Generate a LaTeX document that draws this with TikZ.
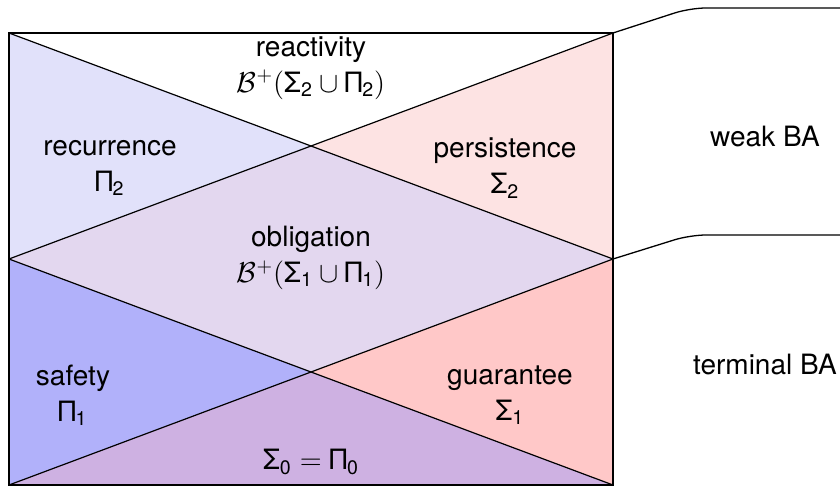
\documentclass[tikz,border=0pt]{standalone}
\usepackage{amsmath}
\usepackage{fontspec}
\setmainfont{TeX Gyre Heros}
\begin{document}
\begin{tikzpicture}[x=0.5pt,y=-0.5pt,
  divline/.style={line width=0.6pt,black},
  bracket/.style={line width=0.65pt,black,rounded corners=8pt},
  lbl/.style={align=center,inner sep=0pt,font=\fontsize{14}{18}\selectfont}]
\definecolor{recurC}{RGB}{225,225,250}
\definecolor{persC}{RGB}{253,227,227}
\definecolor{oblC}{RGB}{227,215,239}
\definecolor{safeC}{RGB}{177,177,250}
\definecolor{guarC}{RGB}{255,200,200}
\definecolor{botC}{RGB}{206,177,226}
\useasboundingbox (0,0) rectangle (840,486);
\clip (0,0) rectangle (840,486);
% corner and crossing coordinates
\coordinate (TL) at (9,33);
\coordinate (TR) at (613,33);
\coordinate (ML) at (9,259);
\coordinate (MR) at (613,259);
\coordinate (BL) at (9,485);
\coordinate (BR) at (613,485);
\coordinate (X1) at (311,146);
\coordinate (X2) at (311,372);
% fills
\fill[recurC] (TL) -- (X1) -- (ML) -- cycle;
\fill[persC] (TR) -- (X1) -- (MR) -- cycle;
\fill[oblC] (ML) -- (X1) -- (MR) -- (X2) -- cycle;
\fill[safeC] (ML) -- (X2) -- (BL) -- cycle;
\fill[guarC] (MR) -- (X2) -- (BR) -- cycle;
\fill[botC] (BL) -- (X2) -- (BR) -- cycle;
% lines
\draw[divline] (TL) -- (MR);
\draw[divline] (ML) -- (TR);
\draw[divline] (ML) -- (BR);
\draw[divline] (BL) -- (MR);
\draw[line width=0.75pt] (TL) rectangle (BR);
% brackets
\coordinate (b1) at (690,8);
\coordinate (b1e) at (860,8);
\coordinate (b2) at (690,235);
\coordinate (b2e) at (860,235);
\draw[bracket] (TR) -- (b1) -- (b1e);
\draw[bracket] (MR) -- (b2) -- (b2e);
% labels
\node[lbl] (react) at (311,68) {reactivity\\$\mathcal{B}^+(\text{Σ}_\text{2}\cup\text{Π}_\text{2})$};
\node[lbl] (recur) at (110,168) {recurrence\\Π$_\text{2}$};
\node[lbl] (pers) at (505,168) {persistence\\Σ$_\text{2}$};
\node[lbl] (obl) at (311,258) {obligation\\$\mathcal{B}^+(\text{Σ}_\text{1}\cup\text{Π}_\text{1})$};
\node[lbl] (safe) at (73,395) {safety\\Π$_\text{1}$};
\node[lbl] (guar) at (510,395) {guarantee\\Σ$_\text{1}$};
\node[lbl] (base) at (311,462) {$\text{Σ}_\text{0}=\text{Π}_\text{0}$};
\node[lbl] (weak) at (765,137) {weak BA};
\node[lbl] (term) at (765,365) {terminal BA};
\end{tikzpicture}
\end{document}
